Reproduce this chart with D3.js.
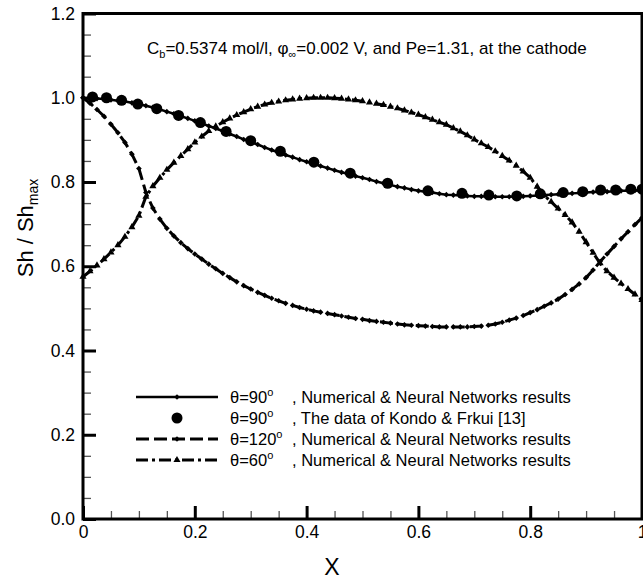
<!DOCTYPE html>
<html>
<head>
<meta charset="utf-8">
<script src="https://cdn.jsdelivr.net/npm/d3@7"></script>
<style>
  body { margin: 0; background: #fff; }
  text { font-family: "Liberation Sans", Arial, Helvetica, sans-serif; fill: #000; }
</style>
</head>
<body>
<script>
// x positions along the cathode (same grid for all three computed curves)
var xGrid = [0,0.0125,0.025,0.0375,0.05,0.0625,0.075,0.0875,0.1,0.1125,
    0.125,0.1375,0.15,0.1625,0.175,0.1875,0.2,0.2125,0.225,0.2375,
    0.25,0.2625,0.275,0.2875,0.3,0.3125,0.325,0.3375,0.35,0.3625,
    0.375,0.3875,0.4,0.4125,0.425,0.4375,0.45,0.4625,0.475,0.4875,
    0.5,0.5125,0.525,0.5375,0.55,0.5625,0.575,0.5875,0.6,0.6125,
    0.625,0.6375,0.65,0.6625,0.675,0.6875,0.7,0.7125,0.725,0.7375,
    0.75,0.7625,0.775,0.7875,0.8,0.8125,0.825,0.8375,0.85,0.8625,
    0.875,0.8875,0.9,0.9125,0.925,0.9375,0.95,0.9625,0.975,0.9875,1];

// theta = 90, numerical & neural networks
var sh90 = [1.000,0.999,0.998,0.997,0.995,0.993,0.991,0.988,0.985,0.981,
    0.977,0.972,0.967,0.962,0.956,0.951,0.945,0.939,0.933,0.927,
    0.921,0.914,0.908,0.901,0.895,0.889,0.882,0.876,0.870,0.864,
    0.859,0.853,0.848,0.843,0.838,0.833,0.828,0.823,0.819,0.814,
    0.810,0.806,0.801,0.797,0.793,0.789,0.786,0.782,0.779,0.777,
    0.775,0.772,0.770,0.769,0.768,0.767,0.766,0.766,0.765,0.765,
    0.765,0.765,0.766,0.766,0.767,0.768,0.769,0.770,0.771,0.772,
    0.773,0.774,0.775,0.776,0.777,0.777,0.778,0.779,0.779,0.780,
    0.780];

// theta = 120
var sh120 = [1.000,0.987,0.972,0.956,0.937,0.917,0.894,0.866,0.832,0.775,
    0.738,0.712,0.690,0.672,0.656,0.642,0.629,0.617,0.605,0.594,
    0.583,0.573,0.563,0.554,0.546,0.538,0.531,0.524,0.518,0.512,
    0.507,0.502,0.498,0.494,0.491,0.488,0.485,0.482,0.479,0.476,
    0.474,0.471,0.469,0.467,0.465,0.463,0.461,0.460,0.459,0.458,
    0.457,0.456,0.456,0.456,0.456,0.456,0.457,0.458,0.460,0.463,
    0.467,0.472,0.477,0.483,0.490,0.497,0.505,0.513,0.522,0.533,
    0.545,0.558,0.573,0.591,0.611,0.629,0.647,0.665,0.682,0.699,
    0.715];

// theta = 60
var sh60 = [0.575,0.588,0.602,0.617,0.633,0.650,0.670,0.693,0.720,0.765,
    0.790,0.810,0.829,0.846,0.862,0.878,0.894,0.908,0.921,0.932,
    0.942,0.951,0.959,0.966,0.973,0.979,0.984,0.988,0.991,0.994,
    0.996,0.998,0.999,1.000,1.000,1.000,0.999,0.998,0.996,0.994,
    0.992,0.989,0.986,0.983,0.979,0.975,0.970,0.965,0.960,0.954,
    0.948,0.942,0.936,0.928,0.920,0.911,0.901,0.892,0.883,0.873,
    0.862,0.851,0.839,0.825,0.810,0.789,0.768,0.753,0.737,0.722,
    0.704,0.682,0.657,0.632,0.607,0.588,0.573,0.559,0.546,0.533,
    0.520];

// Kondo & Frkui data, theta = 90
var kondoX = [0.017,0.042,0.069,0.098,0.132,0.171,0.210,0.256,0.300,0.353,0.413,0.478,
    0.545,0.617,0.678,0.726,0.776,0.818,0.859,0.894,0.926,0.953,0.980,1.000];
var kondoY = [1.002,1.000,0.994,0.985,0.974,0.958,0.941,0.920,0.898,0.873,0.847,0.821,
    0.797,0.779,0.773,0.769,0.767,0.772,0.775,0.777,0.781,0.781,0.783,0.783];

var xMajor = [0, 0.2, 0.4, 0.6, 0.8, 1];
var yMajor = [0, 0.2, 0.4, 0.6, 0.8, 1.0, 1.2];
var xMinor = d3.range(0, 1.0001, 0.05);
var yMinor = d3.range(0, 1.2001, 0.05);

var legendLabels = ["\u03b8=90", "\u03b8=90", "\u03b8=120", "\u03b8=60"];
var legendNotes = [", Numerical & Neural Networks results",
    ", The data of Kondo & Frkui [13]",
    ", Numerical & Neural Networks results",
    ", Numerical & Neural Networks results"];

var W = 643, H = 580;
var plot = {left: 83, right: 642, top: 13.5, bottom: 519};

var svg = d3.select("body").append("svg")
    .attr("width", W)
    .attr("height", H);

var x = d3.scaleLinear().domain([0, 1]).range([plot.left, plot.right]);
var y = d3.scaleLinear().domain([0, 1.2]).range([plot.bottom, plot.top]);

// minor ticks first (thin, grey), then majors
svg.append("g")
    .attr("transform", "translate(0," + plot.bottom + ")")
    .call(d3.axisBottom(x).tickValues(xMinor).tickSize(-8).tickFormat(""))
    .call(function(g) {
        g.select(".domain").remove();
        g.selectAll("line").attr("stroke", "#555").attr("stroke-width", 1.3);
    });
svg.append("g")
    .attr("transform", "translate(" + plot.left + ",0)")
    .call(d3.axisLeft(y).tickValues(yMinor).tickSize(-8).tickFormat(""))
    .call(function(g) {
        g.select(".domain").remove();
        g.selectAll("line").attr("stroke", "#555").attr("stroke-width", 1.3);
    });

var axisX = svg.append("g")
    .attr("transform", "translate(0," + plot.bottom + ")")
    .call(d3.axisBottom(x).tickValues(xMajor).tickSize(-13).tickPadding(7)
        .tickFormat(function(d) { return d === 0 ? "0" : d === 1 ? "1" : d3.format(".1f")(d); }));
axisX.select(".domain").remove();
axisX.selectAll("line").attr("stroke", "#000").attr("stroke-width", 3);
axisX.selectAll("text").attr("font-size", 17.5).attr("font-family", null);

var axisY = svg.append("g")
    .attr("transform", "translate(" + plot.left + ",0)")
    .call(d3.axisLeft(y).tickValues(yMajor).tickSize(-13).tickPadding(8)
        .tickFormat(d3.format(".1f")));
axisY.select(".domain").remove();
axisY.selectAll("line").attr("stroke", "#000").attr("stroke-width", 3);
axisY.selectAll("text").attr("font-size", 17.5).attr("font-family", null);

// curves
var line = function(vals) {
    return d3.line()
        .x(function(d, i) { return x(xGrid[i]); })
        .y(function(d) { return y(d); })(vals);
};

var diamond = d3.symbol(d3.symbolSquare, 16);
var triangle = d3.symbol(d3.symbolTriangle, 22);

function drawCurve(vals, dash, width, sym, rot) {
    svg.append("path")
        .attr("d", line(vals))
        .attr("fill", "none")
        .attr("stroke", "#000")
        .attr("stroke-width", width)
        .attr("stroke-dasharray", dash);
    svg.append("g").selectAll("path")
        .data(vals)
        .join("path")
        .attr("d", sym)
        .attr("transform", function(d, i) {
            return "translate(" + x(xGrid[i]) + "," + y(d) + ") rotate(" + rot + ")";
        })
        .attr("fill", "#000");
}

drawCurve(sh120, "13,5", 3, diamond, 45);
drawCurve(sh60, "12,4,3,4", 3, triangle, 0);
drawCurve(sh90, null, 2.5, diamond, 45);

svg.append("g").selectAll("circle")
    .data(kondoY)
    .join("circle")
    .attr("cx", function(d, i) { return x(kondoX[i]); })
    .attr("cy", function(d) { return y(d); })
    .attr("r", 5.5)
    .attr("fill", "#000");

// frame
svg.append("rect")
    .attr("x", plot.left)
    .attr("y", plot.top)
    .attr("width", plot.right - plot.left)
    .attr("height", plot.bottom - plot.top)
    .attr("fill", "none")
    .attr("stroke", "#000")
    .attr("stroke-width", 3);

// title inside the plot
var title = svg.append("text")
    .attr("x", 147)
    .attr("y", 54)
    .attr("font-size", 17);
title.append("tspan").text("C");
title.append("tspan").attr("font-size", 11).attr("dy", 4).text("b");
title.append("tspan").attr("dy", -4).text("=0.5374 mol/l, \u03c6");
title.append("tspan").attr("font-size", 11).attr("dy", 4).text("\u221e");
title.append("tspan").attr("dy", -4).text("=0.002 V, and Pe=1.31, at the cathode");

// axis titles
svg.append("text")
    .attr("x", 332)
    .attr("y", 575)
    .attr("text-anchor", "middle")
    .attr("font-size", 23)
    .text("X");

var yTitle = svg.append("text")
    .attr("transform", "translate(33,228) rotate(-90)")
    .attr("text-anchor", "middle")
    .attr("font-size", 22);
yTitle.append("tspan").text("Sh / Sh");
yTitle.append("tspan").attr("font-size", 14).attr("dy", 5).text("max");

// legend
var legY = [397, 418, 439, 460];
var legX1 = 136, legX2 = 218, legMid = 177;
var legDash = [null, null, "13,5", "12,4,3,4"];

legY.forEach(function(ly, i) {
    if (i !== 1) {
        svg.append("line")
            .attr("x1", legX1).attr("x2", legX2)
            .attr("y1", ly).attr("y2", ly)
            .attr("stroke", "#000")
            .attr("stroke-width", i === 0 ? 2.5 : 3)
            .attr("stroke-dasharray", legDash[i]);
    }
    if (i === 1) {
        svg.append("circle").attr("cx", legMid).attr("cy", ly).attr("r", 5.5).attr("fill", "#000");
    } else {
        svg.append("path")
            .attr("d", i === 3 ? triangle() : diamond())
            .attr("transform", "translate(" + legMid + "," + ly + ") rotate(" + (i === 3 ? 0 : 45) + ")")
            .attr("fill", "#000");
    }
    var t = svg.append("text")
        .attr("x", 230)
        .attr("y", ly + 6)
        .attr("font-size", 16.5);
    t.append("tspan").text(legendLabels[i]);
    t.append("tspan").attr("font-size", 11).attr("dy", -7).text("o");
    svg.append("text")
        .attr("x", 292)
        .attr("y", ly + 6)
        .attr("font-size", 16.5)
        .text(legendNotes[i]);
});
</script>
</body>
</html>
